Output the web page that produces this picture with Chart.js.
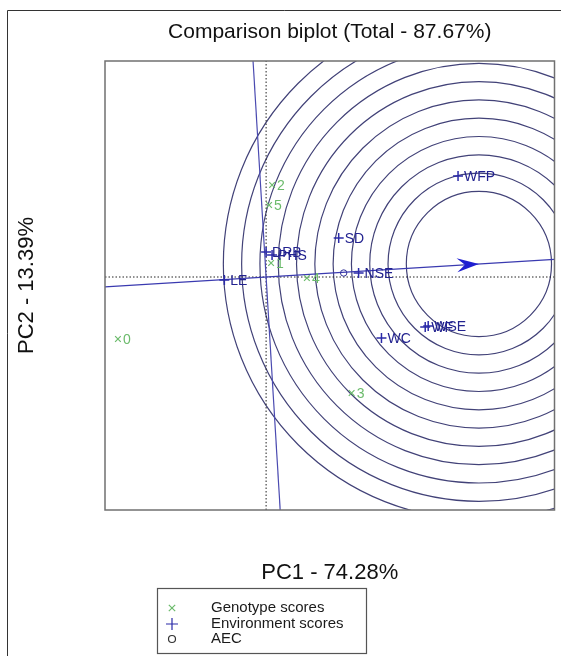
<!DOCTYPE html>
<html>
<head>
<meta charset="utf-8">
<title>Comparison biplot</title>
<script src="https://cdn.jsdelivr.net/npm/chart.js@4.4.1/dist/chart.umd.min.js"></script>
<style>
    html, body { margin: 0; padding: 0; background: #fff; }
    canvas { display: block; }
</style>
</head>
<body>
<canvas id="biplot" width="561" height="656" style="width:561px;height:656px"></canvas>
<script>
// Genotype scores (green x)
const genotypeNames = ['0', '1', '2', '3', '4', '5'];
const genotypePC1 = [-1.49, 0.05, 0.06, 0.86, 0.41, 0.03];
const genotypePC2 = [-0.62, 0.14, 0.92, -1.16, -0.01, 0.72];

// Environment scores (blue +)
const envNames = ['WFP', 'SD', 'NSE', 'WC', 'WF', 'WSE', 'LE', 'DRB', 'PHS'];
const envPC1 = [1.93, 0.73, 0.93, 1.16, 1.60, 1.63, -0.42, 0.00, 0.06];
const envPC2 = [1.01, 0.39, 0.04, -0.61, -0.50, -0.49, -0.03, 0.25, 0.22];

// average environment (AEC circle) and ideal environment (arrow tip / ring centre)
const aecPoint = [0.78, 0.04];
const idealPoint = [2.14, 0.13];
const ringRadii = [0.73, 0.914, 1.098, 1.282, 1.466, 1.65, 1.834, 2.018, 2.202, 2.386, 2.57];

// axis ranges
const pc1Range = [-1.62, 2.90];
const pc2Range = [-2.33, 2.16];

const titleText = 'Comparison biplot (Total - 87.67%)';
const xTitle = 'PC1 - 74.28%';
const yTitle = 'PC2 - 13.39%';
const legendLabels = ['Genotype scores', 'Environment scores', 'AEC'];

const GREEN = '#6cbb6c';
const BLUE = '#2a2aa8';
const RING = '#424278';
const FONT = '"Liberation Sans", Arial, Helvetica, sans-serif';

Chart.defaults.font.family = FONT;

const toXY = (xs, ys) => xs.map((x, i) => ({ x: x, y: ys[i] }));
const slope = idealPoint[1] / idealPoint[0];

// Rings, arrow, point labels, plot box, outer frame and legend
const biplotDecor = {
    id: 'biplotDecor',
    beforeDraw(chart) {
        const ctx = chart.ctx;
        ctx.save();
        ctx.fillStyle = '#fff';
        ctx.fillRect(0, 0, chart.width, chart.height);
        ctx.strokeStyle = '#333';
        ctx.lineWidth = 1;
        ctx.beginPath();
        ctx.moveTo(7.5, chart.height);
        ctx.lineTo(7.5, 10.5);
        ctx.lineTo(chart.width, 10.5);
        ctx.stroke();
        ctx.restore();
    },
    beforeDatasetsDraw(chart) {
        const { ctx, chartArea, scales } = chart;
        const cx = scales.x.getPixelForValue(idealPoint[0]);
        const cy = scales.y.getPixelForValue(idealPoint[1]);
        const unit = scales.x.getPixelForValue(1) - scales.x.getPixelForValue(0);
        ctx.save();
        ctx.beginPath();
        ctx.rect(chartArea.left, chartArea.top, chartArea.right - chartArea.left, chartArea.bottom - chartArea.top);
        ctx.clip();
        ctx.strokeStyle = RING;
        ctx.lineWidth = 1.2;
        ringRadii.forEach(r => {
            ctx.beginPath();
            ctx.arc(cx, cy, r * unit, 0, Math.PI * 2);
            ctx.stroke();
        });
        ctx.restore();
    },
    afterDatasetsDraw(chart) {
        const { ctx, chartArea, scales } = chart;
        ctx.save();

        // arrow head on the AEC abscissa
        const tx = scales.x.getPixelForValue(idealPoint[0]);
        const ty = scales.y.getPixelForValue(idealPoint[1]);
        const ox = scales.x.getPixelForValue(0);
        const oy = scales.y.getPixelForValue(0);
        const len = Math.hypot(tx - ox, ty - oy);
        const dx = (tx - ox) / len, dy = (ty - oy) / len;
        ctx.fillStyle = '#1f1fd0';
        ctx.beginPath();
        ctx.moveTo(tx, ty);
        ctx.lineTo(tx - 22 * dx - 7 * dy, ty - 22 * dy + 7 * dx);
        ctx.lineTo(tx - 14 * dx, ty - 14 * dy);
        ctx.lineTo(tx - 22 * dx + 7 * dy, ty - 22 * dy - 7 * dx);
        ctx.closePath();
        ctx.fill();

        // labels next to the markers
        ctx.font = '14px ' + FONT;
        ctx.textBaseline = 'middle';
        ctx.textAlign = 'left';
        chart.data.datasets.forEach((ds, di) => {
            if (!ds.pointLabels) return;
            const meta = chart.getDatasetMeta(di);
            ctx.fillStyle = ds.labelColor;
            meta.data.forEach((pt, i) => {
                ctx.fillText(ds.pointLabels[i], pt.x + ds.labelGap, pt.y + 1);
            });
        });

        // plot box
        ctx.strokeStyle = '#707070';
        ctx.lineWidth = 1.5;
        ctx.strokeRect(chartArea.left, chartArea.top, chartArea.right - chartArea.left, chartArea.bottom - chartArea.top);
        ctx.restore();
    },
    afterDraw(chart) {
        const ctx = chart.ctx;
        ctx.save();
        ctx.strokeStyle = '#555';
        ctx.lineWidth = 1.2;
        ctx.strokeRect(157.5, 588.5, 209, 65);
        const rows = [608, 624, 639];
        const marks = [
            { pointStyle: 'crossRot', radius: 4.5, borderWidth: 1, color: GREEN },
            { pointStyle: 'cross', radius: 6, borderWidth: 1.3, color: BLUE },
            { pointStyle: 'circle', radius: 3.5, borderWidth: 1, color: '#333' }
        ];
        marks.forEach((m, i) => {
            ctx.strokeStyle = m.color;
            ctx.fillStyle = 'rgba(0,0,0,0)';
            Chart.helpers.drawPoint(ctx, m, 172, rows[i]);
        });
        ctx.fillStyle = '#1a1a1a';
        ctx.font = '15px ' + FONT;
        ctx.textBaseline = 'middle';
        legendLabels.forEach((t, i) => ctx.fillText(t, 211, rows[i]));
        ctx.restore();
    }
};

new Chart(document.getElementById('biplot'), {
    type: 'scatter',
    data: {
        datasets: [
            {
                label: 'Genotype scores',
                data: toXY(genotypePC1, genotypePC2),
                pointStyle: 'crossRot',
                pointRadius: 4,
                borderColor: GREEN,
                borderWidth: 1.2,
                pointLabels: genotypeNames,
                labelColor: GREEN,
                labelGap: 5
            },
            {
                label: 'Environment scores',
                data: toXY(envPC1, envPC2),
                pointStyle: 'cross',
                pointRadius: 5,
                borderColor: BLUE,
                borderWidth: 1.5,
                pointLabels: envNames,
                labelColor: '#22228f',
                labelGap: 6
            },
            {
                label: 'AEC',
                data: [{ x: aecPoint[0], y: aecPoint[1] }],
                pointStyle: 'circle',
                pointRadius: 3.2,
                borderColor: '#333399',
                backgroundColor: 'rgba(0,0,0,0)',
                borderWidth: 1
            },
            {
                label: 'AEC abscissa',
                type: 'line',
                data: [
                    { x: pc1Range[0], y: pc1Range[0] * slope },
                    { x: pc1Range[1], y: pc1Range[1] * slope }
                ],
                borderColor: '#3a3ab0',
                borderWidth: 1.2,
                pointRadius: 0
            },
            {
                label: 'AEC ordinate',
                type: 'line',
                data: [
                    { x: -pc2Range[0] * slope, y: pc2Range[0] },
                    { x: -pc2Range[1] * slope, y: pc2Range[1] }
                ],
                borderColor: '#4a4ab0',
                borderWidth: 1.2,
                pointRadius: 0
            },
            {
                label: 'PC1 axis',
                type: 'line',
                data: [{ x: pc1Range[0], y: 0 }, { x: pc1Range[1], y: 0 }],
                borderColor: '#222',
                borderWidth: 1,
                borderDash: [1.5, 2],
                pointRadius: 0
            },
            {
                label: 'PC2 axis',
                type: 'line',
                data: [{ x: 0, y: pc2Range[0] }, { x: 0, y: pc2Range[1] }],
                borderColor: '#222',
                borderWidth: 1,
                borderDash: [1.5, 2],
                pointRadius: 0
            }
        ]
    },
    options: {
        responsive: false,
        animation: false,
        events: [],
        layout: { padding: { left: 0, right: 4, top: 0, bottom: 69.6 } },
        plugins: {
            legend: { display: false },
            tooltip: { enabled: false },
            title: {
                display: true,
                text: titleText,
                fullSize: false,
                color: '#111',
                font: { size: 21, weight: 'normal' },
                padding: { top: 19.4, bottom: 16.4 }
            }
        },
        scales: {
            x: {
                type: 'linear',
                min: pc1Range[0],
                max: pc1Range[1],
                ticks: { display: false },
                grid: { display: false, drawTicks: false },
                border: { display: false },
                title: {
                    display: true,
                    text: xTitle,
                    color: '#111',
                    font: { size: 22 },
                    padding: { top: 50, bottom: 0 }
                }
            },
            y: {
                type: 'linear',
                min: pc2Range[0],
                max: pc2Range[1],
                ticks: { display: false },
                grid: { display: false, drawTicks: false },
                border: { display: false },
                title: {
                    display: true,
                    text: yTitle,
                    color: '#111',
                    font: { size: 22 },
                    padding: { top: 14, bottom: 64.6 }
                }
            }
        }
    },
    plugins: [biplotDecor]
});
</script>
</body>
</html>
